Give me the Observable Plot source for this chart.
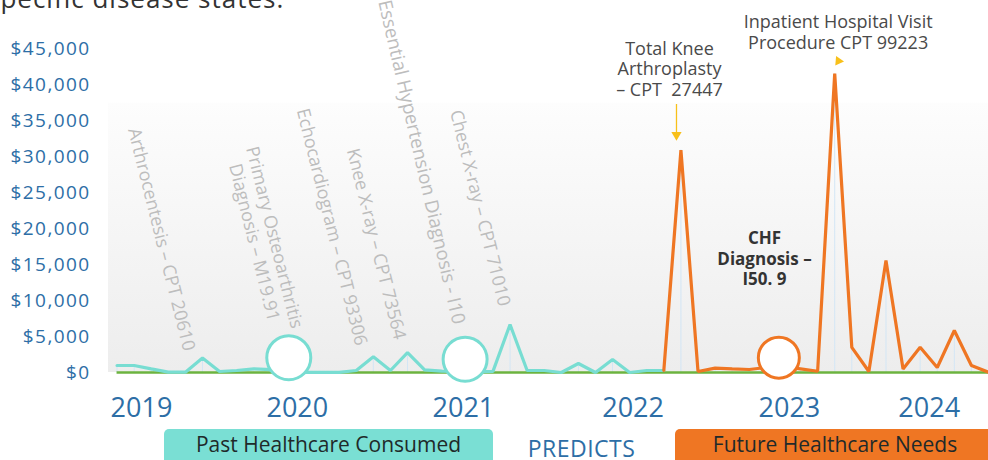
<!DOCTYPE html>
<html><head><meta charset="utf-8">
<script src="https://cdn.jsdelivr.net/npm/d3@7"></script>
<script src="https://cdn.jsdelivr.net/npm/@observablehq/plot@0.6"></script>
<style>
html,body{margin:0;padding:0;background:#fff;width:988px;height:460px;overflow:hidden;font-family:"Open Sans",sans-serif;}
#wrap{position:relative;width:988px;height:460px;overflow:hidden;}
#intro{position:absolute;left:-13px;top:-17px;font-size:26px;color:#333;white-space:nowrap;line-height:31px;letter-spacing:1px;z-index:2}
#chart{position:absolute;left:0;top:0}
.box{position:absolute;top:429px;height:40px;border-radius:5px;text-align:center;font-size:21px;color:#1f2a2a;line-height:21px;box-sizing:border-box;padding-top:5px;white-space:nowrap}
#past{left:164px;width:329px;background:#7adfd4}
#future{left:675px;width:320px;background:#ef7623}
#predicts{position:absolute;left:500px;width:163px;top:437px;text-align:center;font-size:23px;line-height:23px;color:#2d6ea6;letter-spacing:0.5px;white-space:nowrap}
</style>
</head><body>
<div id="wrap">
  <div id="intro">specific disease states.</div>
  <div id="chart"></div>
  <div class="box" id="past">Past Healthcare Consumed</div>
  <div id="predicts">PREDICTS</div>
  <div class="box" id="future">Future Healthcare Needs</div>
</div>
<script>
// ---- data ----
const years = ["2019", "2020", "2021", "2022", "2023", "2024"];
const yearPos = [1.43, 10.55, 20.27, 30.2, 39.35, 47.53];
const yTicks = [0, 5000, 10000, 15000, 20000, 25000, 30000, 35000, 40000, 45000];

// past healthcare consumed (visit index 0..32)
const pastIndex = d3.range(0, 33);
const pastCost = [970, 970, 500, 50, 50, 2000, 140, 280, 510, 400, 200, 30, 30, 30, 280, 2200, 280, 2750, 370, 180, 150, 100, 150, 6670, 280, 280, 0, 1250, 0, 1800, 0, 280, 280];
// future healthcare needs (visit index 32..51)
const futureIndex = d3.range(32, 52);
const futureCost = [280, 30900, 140, 600, 500, 420, 700, 800, 500, 170, 41500, 3500, 140, 15550, 500, 3500, 700, 5830, 970, 50];

const past = pastIndex.map((i, k) => ({i, v: pastCost[k]}));
const future = futureIndex.map((i, k) => ({i, v: futureCost[k]}));
const allPoints = past.concat(future.slice(1));

// annotations (positions in data units)
const rotLabelsStart = [
  {x: 0.97, y: 33900, t: "Arthrocentesis – CPT 20610"},
  {x: 10.84, y: 36600, t: "Echocardiogram – CPT 93306"},
  {x: 13.77, y: 31050, t: "Knee X-ray – CPT 73564"},
  {x: 19.81, y: 36400, t: "Chest X-ray – CPT 71010"}
];
const rotLabelsMiddle = [
  {x: 8.66, y: 18440, t: "Primary Osteoarthritis\nDiagnosis – M19.91"}
];
const rotLabelsEnd = [
  {x: 20.0, y: 6760, t: "Essential Hypertension Diagnosis - I10"}
];
const topNotes = [
  {x: 32.33, y: 42190, t: "Total Knee\nArthroplasty\n– CPT  27447"},
  {x: 42.2, y: 47320, t: "Inpatient Hospital Visit\nProcedure CPT 99223"}
];
const chfNote = [{x: 37.89, y: 15890, t: "CHF\nDiagnosis –\nI50. 9"}];
const kneeArrow = [{x: 32.74, y1: 33330, y2: 37220, tip: 33000}];
const visitArrow = [{x: 42.22, y: 43260}];
const pastCircles = [{x: 10.05, y: 2060}, {x: 20.37, y: 1840}];
const futureCircles = [{x: 38.73, y: 2060}];
const plotArea = [{x1: -0.5, x2: 51, y1: 0, y2: 37400}];

const blue = "#2d6ea6", teal = "#78ddd2", orange = "#ef7623", green = "#6cb33f", drop = "#d3e6f5", yellow = "#f8c01a";

const chart = Plot.plot({
  width: 988, height: 425,
  marginLeft: 108, marginRight: 0, marginTop: 48, marginBottom: 53,
  x: {domain: [-0.5, 51]},
  y: {domain: [0, 45000]},
  style: {fontFamily: "'Open Sans', sans-serif", background: "transparent", overflow: "visible"},
  marks: [
    Plot.rect(plotArea, {x1: "x1", x2: "x2", y1: "y1", y2: "y2", fill: "url(#bgGrad)"}),
    Plot.ruleX(allPoints, {x: "i", y1: 0, y2: "v", stroke: drop, strokeWidth: 1}),
    Plot.ruleY([0], {x1: () => pastIndex[0], x2: () => futureIndex[futureIndex.length - 1], stroke: green, strokeWidth: 2.5}),
    Plot.line(past, {x: "i", y: "v", stroke: teal, strokeWidth: 3.2, strokeLinejoin: "miter"}),
    Plot.line(future, {x: "i", y: "v", stroke: orange, strokeWidth: 3.2, strokeLinejoin: "miter"}),
    Plot.dot(pastCircles, {x: "x", y: "y", r: 22, fill: "white", stroke: teal, strokeWidth: 3}),
    Plot.dot(futureCircles, {x: "x", y: "y", r: 20.5, fill: "white", stroke: orange, strokeWidth: 3}),
    Plot.text(rotLabelsStart, {x: "x", y: "y", text: "t", rotate: 76, textAnchor: "start", lineAnchor: "middle", fill: "#bdbdbd", fontSize: 18}),
    Plot.text(rotLabelsMiddle, {x: "x", y: "y", text: "t", rotate: 76, textAnchor: "middle", lineAnchor: "middle", lineHeight: 1.15, fill: "#bdbdbd", fontSize: 18}),
    Plot.text(rotLabelsEnd, {x: "x", y: "y", text: "t", rotate: 77, textAnchor: "end", lineAnchor: "middle", fill: "#bdbdbd", fontSize: 18.8}),
    Plot.text(topNotes, {x: "x", y: "y", text: "t", textAnchor: "middle", lineAnchor: "middle", lineHeight: 1.16, fill: "#4a4a4a", fontSize: 18}),
    Plot.text(chfNote, {x: "x", y: "y", text: "t", textAnchor: "middle", lineAnchor: "middle", lineHeight: 1.2, fill: "#333", fontSize: 17, fontWeight: "bold"}),
    Plot.ruleX(kneeArrow, {x: "x", y1: "y1", y2: "y2", stroke: yellow, strokeWidth: 1.3}),
    Plot.dot(kneeArrow, {x: "x", y: "tip", symbol: "triangle", rotate: 180, r: 3.8, fill: yellow, stroke: null}),
    Plot.dot(visitArrow, {x: "x", y: "y", symbol: "triangle", rotate: 95, r: 3.6, fill: yellow, stroke: null}),
    Plot.axisY({ticks: yTicks, tickFormat: d => "$" + d3.format(",")(d), tickSize: 0, tickPadding: 18, fontSize: 19, fill: blue}),
    Plot.axisX({ticks: yearPos, tickFormat: d => years[yearPos.indexOf(d)], tickSize: 0, tickPadding: 25, fontSize: 27, fill: blue})
  ]
});

const defs = d3.select(chart).insert("defs", ":first-child");
const grad = defs.append("linearGradient").attr("id", "bgGrad").attr("x1", 0).attr("x2", 0).attr("y1", 0).attr("y2", 1);
grad.append("stop").attr("offset", "0%").attr("stop-color", "#fdfdfd");
grad.append("stop").attr("offset", "100%").attr("stop-color", "#ededed");
d3.select(chart).selectAll('g[aria-label="y-axis tick label"] text').style("letter-spacing", "1.4px");
document.getElementById("chart").appendChild(chart);
</script>
</body></html>
